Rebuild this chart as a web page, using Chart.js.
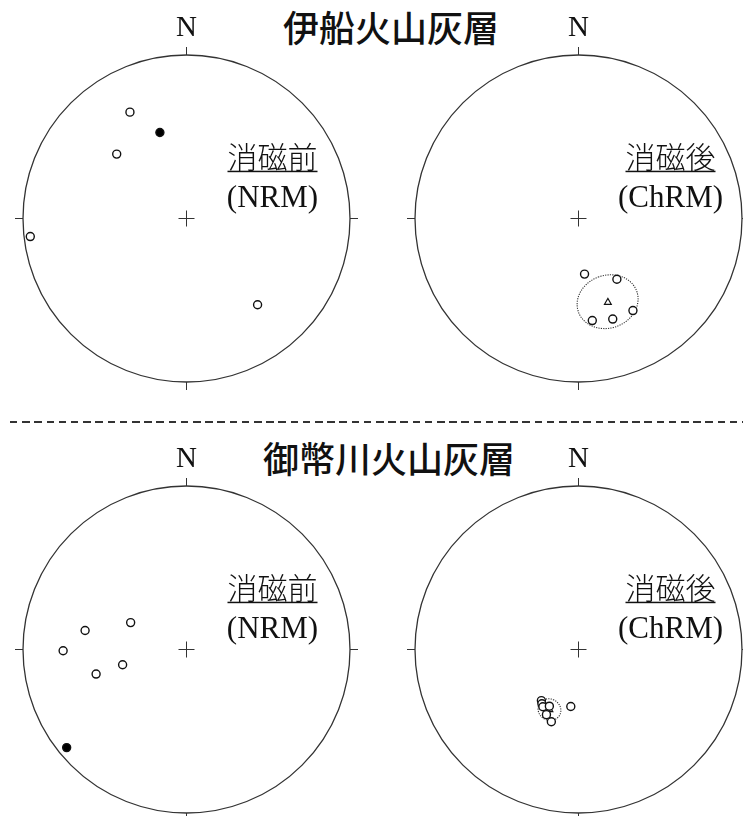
<!DOCTYPE html>
<html>
<head>
<meta charset="utf-8">
<script src="https://cdn.jsdelivr.net/npm/chart.js@4/dist/chart.umd.min.js"></script>
<style>
  html, body { margin: 0; padding: 0; width: 743px; height: 816px; overflow: hidden; background: #fff; }
  canvas { position: absolute; }
  .title {
    position: absolute; transform: translate(-50%, -50%); white-space: nowrap;
    font-family: "Noto Sans CJK JP", sans-serif; font-size: 36px; font-weight: 500; line-height: 1; color: #111;
  }
  .sep {
    position: absolute; left: 10px; top: 421px; width: 733px; height: 1.5px;
    background: repeating-linear-gradient(to right, #333 0 7.5px, transparent 7.5px 12.2px);
  }
</style>
</head>
<body>
<div class="title" style="left:391px; top:26px">伊船火山灰層</div>
<div class="sep"></div>
<div class="title" style="left:389px; top:457px">御幣川火山灰層</div>

<canvas id="ifuneNrm"></canvas>
<canvas id="ifuneChrm"></canvas>
<canvas id="onbeNrm"></canvas>
<canvas id="onbeChrm"></canvas>

<script>
// Paleomagnetic directions: declination (deg, clockwise from N) and inclination (deg, + = down)
// 伊船火山灰層 — before demagnetization (NRM)
const ifuneNrmDec = [332.0, 342.8, 312.7, 263.4, 140.5];
const ifuneNrmInc = [-27.2, 44.2, -41.5, -4.3, -32.2];
// 伊船火山灰層 — after demagnetization (ChRM)
const ifuneChrmDec = [173.8, 147.7, 149.4, 172.3, 161.2];
const ifuneChrmInc = [-62.0, -53.8, -34.9, -37.1, -35.3];
// 伊船 mean direction and α95
const ifuneMeanDec = [160.7];
const ifuneMeanInc = [-44.8];
const ifuneA95 = [14.2];

// 御幣川火山灰層 — NRM
const onbeNrmDec = [295.7, 280.6, 269.4, 256.6, 254.8, 230.7];
const onbeNrmInc = [-58.9, -37.0, -25.5, -57.0, -42.2, 5.9];
// 御幣川火山灰層 — ChRM
const onbeChrmDec = [216.0, 214.0, 211.9, 207.2, 206.2, 200.6, 187.7];
const onbeChrmInc = [-58.3, -57.1, -56.1, -58.0, -53.4, -51.0, -61.2];
// 御幣川 mean direction and α95
const onbeMeanDec = [205.8];
const onbeMeanInc = [-56.4];
const onbeA95 = [5.5];

// Panel captions
const stageLabels = ['消磁前', '消磁後'];
const stageCodes = ['(NRM)', '(ChRM)'];
const northLabel = 'N';

const RAD = Math.PI / 180;

// Lambert equal-area projection onto the unit circle (|inc| used, hemisphere shown by fill)
function project(dec, inc) {
  const r = Math.SQRT2 * Math.sin((90 - Math.abs(inc)) / 2 * RAD);
  return { x: r * Math.sin(dec * RAD), y: r * Math.cos(dec * RAD) };
}

// Small circle of angular radius a95 around a mean direction, projected
function confidenceCircle(dec, inc, a95) {
  const p = Math.abs(inc) * RAD, d = dec * RAD, a = a95 * RAD;
  const m = [Math.cos(p) * Math.cos(d), Math.cos(p) * Math.sin(d), Math.sin(p)];
  const u = [-Math.sin(p) * Math.cos(d), -Math.sin(p) * Math.sin(d), Math.cos(p)];
  const v = [-Math.sin(d), Math.cos(d), 0];
  const pts = [];
  for (let k = 0; k <= 72; k++) {
    const t = k * 5 * RAD;
    const q = [0, 1, 2].map(i => Math.cos(a) * m[i] + Math.sin(a) * (Math.cos(t) * u[i] + Math.sin(t) * v[i]));
    const plunge = Math.asin(q[2]) / RAD;
    const trend = Math.atan2(q[1], q[0]) / RAD;
    pts.push(project(trend, plunge));
  }
  return pts;
}

// Net frame: primitive circle, cardinal ticks, centre cross, N and stage caption
const netFrame = {
  id: 'netFrame',
  beforeDatasetsDraw(chart, args, opts) {
    const { ctx, scales: { x, y } } = chart;
    const cx = x.getPixelForValue(0), cy = y.getPixelForValue(0);
    const R = x.getPixelForValue(1) - cx;
    ctx.save();
    ctx.strokeStyle = '#333';
    ctx.lineWidth = 1.3;
    ctx.beginPath();
    ctx.arc(cx, cy, R, 0, Math.PI * 2);
    ctx.stroke();
    ctx.lineWidth = 1;
    const tick = 8;
    ctx.beginPath();
    ctx.moveTo(cx, cy - R); ctx.lineTo(cx, cy - R - tick);
    ctx.moveTo(cx, cy + R); ctx.lineTo(cx, cy + R + tick);
    ctx.moveTo(cx - R, cy); ctx.lineTo(cx - R - tick, cy);
    ctx.moveTo(cx + R, cy); ctx.lineTo(cx + R + tick, cy);
    ctx.moveTo(cx - 8, cy); ctx.lineTo(cx + 8, cy);
    ctx.moveTo(cx, cy - 8); ctx.lineTo(cx, cy + 8);
    ctx.stroke();

    ctx.fillStyle = '#111';
    ctx.textAlign = 'center';
    ctx.textBaseline = 'alphabetic';
    ctx.font = '29px "Liberation Serif", "Times New Roman", serif';
    ctx.fillText(northLabel, cx, cy - R - 29 + 9.6);

    const lx = cx + opts.captionDx;
    ctx.font = '300 30px "Noto Sans CJK JP", sans-serif';
    ctx.textBaseline = 'middle';
    const cap = stageLabels[opts.stage];
    ctx.fillText(cap, lx, cy - 62);
    const w = ctx.measureText(cap).width;
    ctx.fillRect(lx - w / 2, cy - 47.8, w, 1.5);
    ctx.textBaseline = 'alphabetic';
    ctx.font = '31px "Liberation Serif", "Times New Roman", serif';
    ctx.fillText(stageCodes[opts.stage], lx, cy - 22 + 10.3);
    ctx.restore();
  }
};

function makeNet(id, cx, cy, R, stage, captionDx, decs, incs, meanDec, meanInc, a95) {
  const pad = { left: 24, right: 24, top: 52, bottom: 12 };
  const canvas = document.getElementById(id);
  const w = 2 * R + pad.left + pad.right, h = 2 * R + pad.top + pad.bottom;
  canvas.width = w; canvas.height = h;
  canvas.style.width = w + 'px'; canvas.style.height = h + 'px';
  canvas.style.left = (cx - R - pad.left) + 'px';
  canvas.style.top = (cy - R - pad.top) + 'px';

  const datasets = [{
    label: 'directions',
    data: decs.map((d, i) => project(d, incs[i])),
    showLine: false,
    pointRadius: 4,
    pointBorderWidth: 1.4,
    pointBorderColor: '#111',
    pointBackgroundColor: incs.map(i => i > 0 ? '#000' : '#fff'),
    clip: false
  }];
  if (meanDec) {
    datasets.push({
      label: 'mean',
      data: meanDec.map((d, i) => project(d, meanInc[i])),
      pointStyle: 'triangle',
      pointRadius: 4,
      pointBorderWidth: 1.1,
      pointBorderColor: '#111',
      pointBackgroundColor: '#fff',
      clip: false
    });
    datasets.push({
      label: 'α95',
      data: confidenceCircle(meanDec[0], meanInc[0], a95[0]),
      showLine: true,
      pointRadius: 0,
      borderColor: '#333',
      borderWidth: 1.1,
      borderDash: [1.2, 1.2],
      fill: false,
      clip: false
    });
  }

  new Chart(canvas, {
    type: 'scatter',
    data: { datasets },
    options: {
      responsive: false,
      animation: false,
      events: [],
      devicePixelRatio: 1,
      layout: { padding: pad },
      scales: {
        x: { type: 'linear', min: -1, max: 1, display: false },
        y: { type: 'linear', min: -1, max: 1, display: false }
      },
      plugins: {
        legend: { display: false },
        tooltip: { enabled: false },
        netFrame: { stage, captionDx }
      }
    },
    plugins: [netFrame]
  });
}

makeNet('ifuneNrm', 186.5, 218.5, 163.5, 0, 86, ifuneNrmDec, ifuneNrmInc);
makeNet('ifuneChrm', 578.5, 218.5, 163.5, 1, 92, ifuneChrmDec, ifuneChrmInc, ifuneMeanDec, ifuneMeanInc, ifuneA95);
makeNet('onbeNrm', 186.5, 649.5, 163.5, 0, 86, onbeNrmDec, onbeNrmInc);
makeNet('onbeChrm', 578.5, 649.5, 163.5, 1, 92, onbeChrmDec, onbeChrmInc, onbeMeanDec, onbeMeanInc, onbeA95);
</script>
</body>
</html>
